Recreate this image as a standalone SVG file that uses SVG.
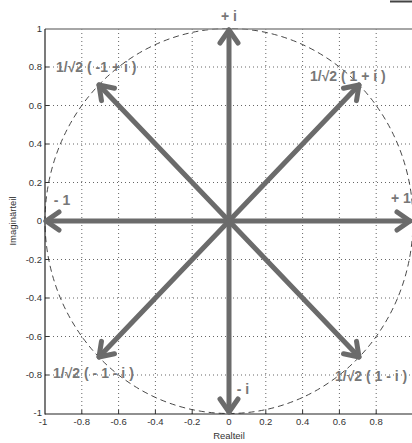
<svg xmlns="http://www.w3.org/2000/svg" width="412" height="443" viewBox="0 0 412 443">
<defs>
<style>
.grid{stroke:#666;stroke-width:1;stroke-dasharray:1 3;fill:none}
.axis{stroke:#222;stroke-width:1.2;fill:none}
.tick{font-family:"Liberation Sans",Arial,sans-serif;font-size:9.5px;fill:#333}
.lab{font-family:"Liberation Sans",Arial,sans-serif;font-size:14px;font-weight:bold;fill:#777}
.arr{stroke:#6b6b6b;stroke-width:5;stroke-linecap:round;fill:none}
</style>
<marker id="head" markerUnits="userSpaceOnUse" viewBox="-20 -14 24 28" refX="0" refY="0" markerWidth="24" markerHeight="28" orient="auto" overflow="visible">
<path d="M-13,-9 L0,0 L-13,9" fill="none" stroke="#6b6b6b" stroke-width="5" stroke-linecap="round" stroke-linejoin="round"/>
</marker>
</defs>
<rect width="412" height="443" fill="#fff"/>
<line x1="390" y1="1.5" x2="412" y2="1.5" stroke="#444" stroke-width="2"/>
<g id="grid">
<path class="grid" d="M81.8,29V414M118.6,29V414M155.4,29V414M192.2,29V414M229,29V414M265.8,29V414M302.6,29V414M339.4,29V414M376.2,29V414"/>
<path class="grid" d="M45,67H412M45,105.5H412M45,144H412M45,182.5H412M45,221H412M45,259.5H412M45,298H412M45,336.5H412M45,375H412"/>
</g>
<ellipse id="circle" cx="229" cy="221" rx="184" ry="192.5" fill="none" stroke="#333" stroke-width="0.9" stroke-dasharray="6 4"/>
<g id="axes">
<line x1="45" y1="29" x2="412" y2="29" stroke="#888" stroke-width="1.5"/>
<line class="axis" x1="45" y1="29" x2="45" y2="414.5"/>
<line class="axis" x1="45" y1="414" x2="412" y2="414" stroke="#555"/>
<path stroke="#333" stroke-width="1" d="M81.8,414v-4M118.6,414v-4M155.4,414v-4M192.2,414v-4M229,414v-4M265.8,414v-4M302.6,414v-4M339.4,414v-4M376.2,414v-4M45,67h4M45,105.5h4M45,144h4M45,182.5h4M45,221h4M45,259.5h4M45,298h4M45,336.5h4M45,375h4"/>
<g class="tick" text-anchor="end">
<text x="42" y="32">1</text>
<text x="42" y="70">0.8</text>
<text x="42" y="108.5">0.6</text>
<text x="42" y="147">0.4</text>
<text x="42" y="185.5">0.2</text>
<text x="42" y="224">0</text>
<text x="42" y="262.5">-0.2</text>
<text x="42" y="301">-0.4</text>
<text x="42" y="339.5">-0.6</text>
<text x="42" y="378">-0.8</text>
<text x="42" y="416">-1</text>
</g>
<g class="tick" text-anchor="middle">
<text x="43" y="425">-1</text>
<text x="81.8" y="425">-0.8</text>
<text x="118.6" y="425">-0.6</text>
<text x="155.4" y="425">-0.4</text>
<text x="192.2" y="425">-0.2</text>
<text x="229" y="425">0</text>
<text x="265.8" y="425">0.2</text>
<text x="302.6" y="425">0.4</text>
<text x="339.4" y="425">0.6</text>
<text x="376.2" y="425">0.8</text>
</g>
<text class="tick" x="229" y="439" text-anchor="middle">Realteil</text>
<text class="tick" transform="translate(16,221) rotate(-90)" text-anchor="middle">Imaginärteil</text>
</g>
<g id="connectors">
<line class="arr" x1="229" y1="221" x2="410" y2="221" marker-end="url(#head)"/>
<line class="arr" x1="229" y1="221" x2="46" y2="221" marker-end="url(#head)"/>
<line class="arr" x1="229" y1="221" x2="229" y2="30" marker-end="url(#head)"/>
<line class="arr" x1="229" y1="221" x2="229" y2="412" marker-end="url(#head)"/>
<line class="arr" x1="229" y1="221" x2="359" y2="85" marker-end="url(#head)"/>
<line class="arr" x1="229" y1="221" x2="99" y2="85" marker-end="url(#head)"/>
<line class="arr" x1="229" y1="221" x2="99" y2="357" marker-end="url(#head)"/>
<line class="arr" x1="229" y1="221" x2="359" y2="357" marker-end="url(#head)"/>
</g>
<g id="n-plus-i"><text class="lab" x="229" y="21" text-anchor="middle">+ i</text></g>
<g id="n-minus-i"><text class="lab" x="243" y="394" text-anchor="middle">- i</text></g>
<g id="n-minus-1"><text class="lab" x="62" y="205" text-anchor="middle">- 1</text></g>
<g id="n-plus-1"><text class="lab" x="391" y="203">+ 1</text></g>
<g id="n-q1"><text class="lab" x="310" y="81">1/√2 ( 1 + i )</text></g>
<g id="n-q2"><text class="lab" x="56" y="72">1/√2 ( -1 + i )</text></g>
<g id="n-q3"><text class="lab" x="53" y="378">1/√2 ( - 1 - i )</text></g>
<g id="n-q4"><text class="lab" x="335" y="381">1/√2 ( 1 - i )</text></g>
</svg>
